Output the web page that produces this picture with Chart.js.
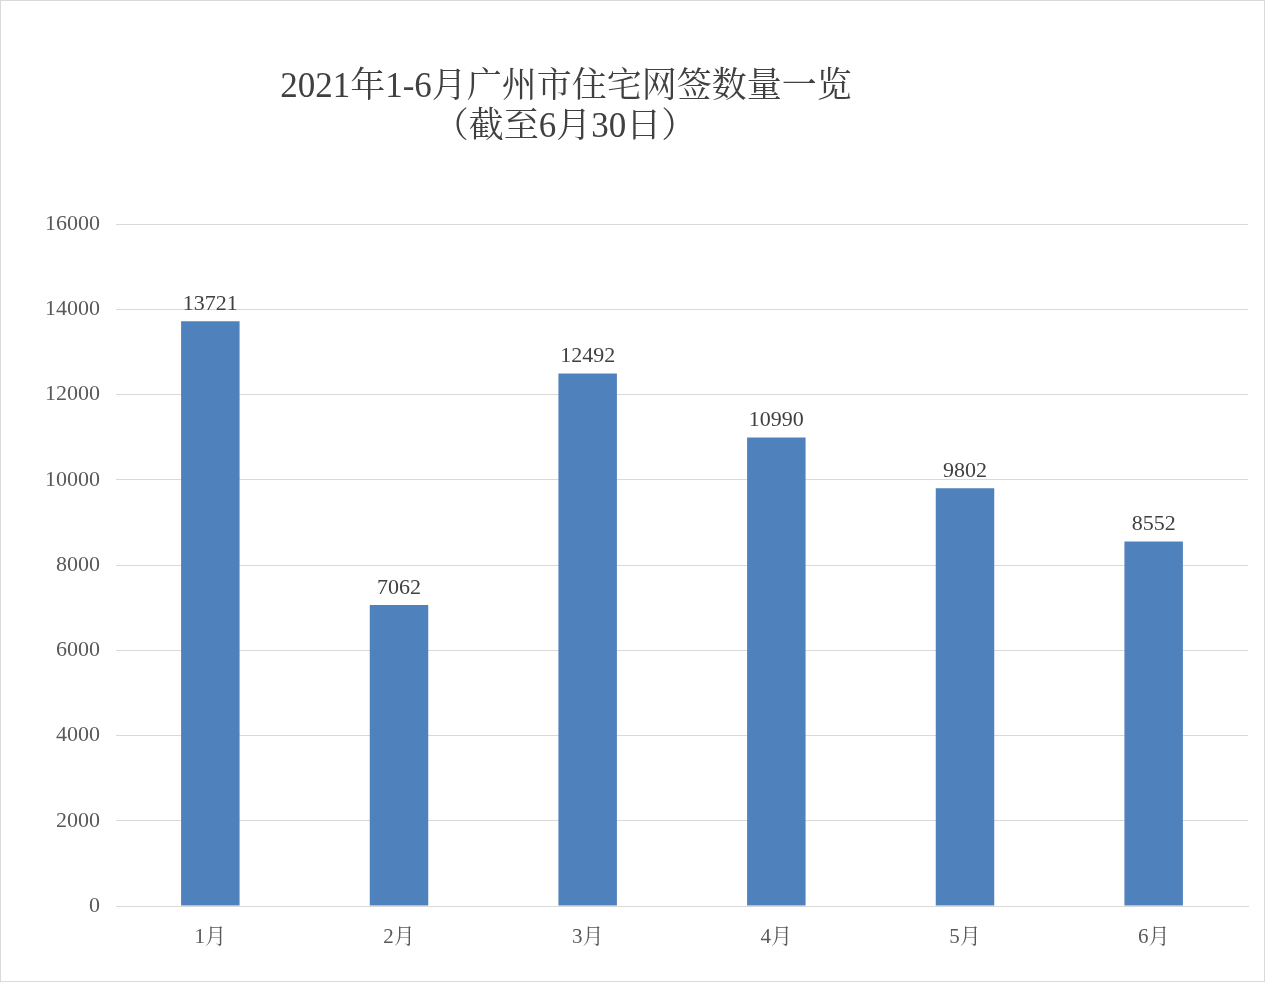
<!DOCTYPE html>
<html>
<head>
<meta charset="utf-8">
<script src="https://cdn.jsdelivr.net/npm/chart.js@4"></script>
<style>
  html, body { margin: 0; padding: 0; background: #fff; }
  #wrap { width: 1263px; height: 980px; border: 1px solid #d9d9d9; }
</style>
</head>
<body>
<div id="wrap"><canvas id="chart" width="1263" height="980"></canvas></div>
<script>
// 数据
const months = ['1月', '2月', '3月', '4月', '5月', '6月'];
const signings = [13721, 7062, 12492, 10990, 9802, 8552];
const yTicks = [0, 2000, 4000, 6000, 8000, 10000, 12000, 14000, 16000];
const titleLines = ['2021年1-6月广州市住宅网签数量一览', '（截至6月30日）'];

const FONT = '"Liberation Serif", "Noto Serif CJK SC", "Noto Sans CJK SC", serif';

// 标题
const titlePlugin = {
  id: 'titleText',
  afterDraw(chart) {
    const ctx = chart.ctx;
    ctx.save();
    ctx.fillStyle = '#404040';
    ctx.font = '35px ' + FONT;
    ctx.textAlign = 'center';
    ctx.textBaseline = 'middle';
    ctx.fillText(titleLines[0], 565, 87);
    ctx.fillText(titleLines[1], 564, 127);
    ctx.restore();
  }
};

// 柱顶数值
const valuePlugin = {
  id: 'valueLabels',
  afterDatasetsDraw(chart) {
    const ctx = chart.ctx;
    const meta = chart.getDatasetMeta(0);
    ctx.save();
    ctx.fillStyle = '#404040';
    ctx.font = '22px ' + FONT;
    ctx.textAlign = 'center';
    ctx.textBaseline = 'bottom';
    meta.data.forEach((bar, i) => {
      ctx.fillText(signings[i], bar.x, bar.y - 6);
    });
    ctx.restore();
  }
};

new Chart(document.getElementById('chart'), {
  type: 'bar',
  data: {
    labels: months,
    datasets: [{
      data: signings,
      backgroundColor: '#4f81bd',
      borderWidth: 0,
      barPercentage: 0.62,
      categoryPercentage: 0.5
    }]
  },
  options: {
    responsive: false,
    animation: false,
    layout: { padding: { top: 223, right: 16, bottom: 0, left: 0 } },
    plugins: {
      legend: { display: false },
      title: { display: false },
      tooltip: { enabled: false }
    },
    scales: {
      x: {
        grid: { display: false },
        border: { color: '#d9d9d9', width: 1 },
        ticks: { color: '#595959', font: { family: FONT, size: 21 }, padding: 11 },
        afterFit(scale) { scale.height = 75; }
      },
      y: {
        min: 0,
        max: 16000,
        afterBuildTicks(scale) { scale.ticks = yTicks.map(v => ({ value: v })); },
        grid: { color: '#d9d9d9', lineWidth: 1, drawTicks: false },
        border: { display: false },
        ticks: {
          color: '#595959',
          font: { family: FONT, size: 22 },
          padding: 16,
          callback: v => String(v)
        },
        afterFit(scale) { scale.width = 115; }
      }
    }
  },
  plugins: [titlePlugin, valuePlugin]
});
</script>
</body>
</html>
